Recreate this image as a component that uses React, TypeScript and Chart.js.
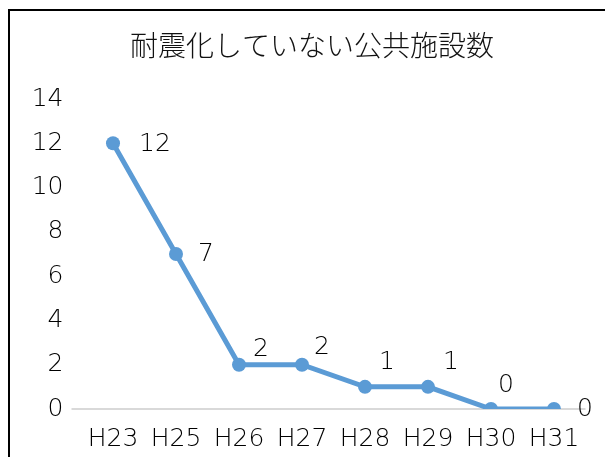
import React, { useEffect, useRef } from "react";
import { Chart, registerables } from "chart.js";

Chart.register(...registerables);

const title = "耐震化していない公共施設数";
const categories = ["H23", "H25", "H26", "H27", "H28", "H29", "H30", "H31"];
const values = [12, 7, 2, 2, 1, 1, 0, 0];
// label placement relative to each point (dx, dy in px), as in the reference
const labelDx = [42, 30, 22, 20, 22, 23, 15, 31];
const labelDy = [1, 0, -15, -17, -24, -24, -24, 0];

const FONT = "'DejaVu Sans', 'Noto Sans CJK JP', sans-serif";
const TEXT = "#000000";
const LINE = "#5B9BD5";

export default function App() {
  const ref = useRef<HTMLCanvasElement | null>(null);

  useEffect(() => {
    document.body.style.margin = "0";
    const canvas = ref.current!;
    const framePlugin = {
      id: "frame",
      beforeDraw(chart: any) {
        const c = chart.ctx;
        c.save();
        c.fillStyle = "#ffffff";
        c.fillRect(0, 0, chart.width, chart.height);
        c.strokeStyle = "#000000";
        c.lineWidth = 2;
        c.strokeRect(9, 10, 800, 800);
        c.restore();
      },
      afterDraw(chart: any) {
        const c = chart.ctx;
        c.save();
        c.font = `300 28px 'Noto Sans CJK JP', sans-serif`;
        c.fillStyle = "#111111";
        c.textAlign = "center";
        c.textBaseline = "middle";
        c.fillText(title, 312, 45);
        c.restore();
      },
    };
    const labelPlugin = {
      id: "pointLabels",
      afterDatasetsDraw(chart: any) {
        const c = chart.ctx;
        const meta = chart.getDatasetMeta(0);
        c.save();
        c.font = `200 25px ${FONT}`;
        c.fillStyle = TEXT;
        c.textAlign = "center";
        c.textBaseline = "middle";
        meta.data.forEach((pt: any, i: number) => {
          c.fillText(String(values[i]), pt.x + labelDx[i], pt.y + labelDy[i]);
        });
        c.restore();
      },
    };
    const chart = new Chart(canvas, {
      type: "line",
      data: {
        labels: categories,
        datasets: [
          {
            data: values,
            borderColor: LINE,
            backgroundColor: LINE,
            borderWidth: 5,
            pointRadius: 7,
            pointHoverRadius: 7,
            pointBackgroundColor: LINE,
            pointBorderColor: LINE,
            pointBorderWidth: 0,
            tension: 0,
          },
        ],
      },
      options: {
        animation: false,
        responsive: false,
        devicePixelRatio: 1,
        layout: { padding: { left: 10, right: 19.5, top: 99, bottom: 0 } },
        plugins: {
          legend: { display: false },
          tooltip: { enabled: false },
          title: { display: false },
        },
        scales: {
          x: {
            offset: true,
            grid: { display: false },
            border: { display: false },
            ticks: {
              color: TEXT,
              font: { family: FONT, size: 25, weight: "200" as any },
              padding: 7,
              maxRotation: 0,
              autoSkip: false,
            },
            afterFit(scale: any) {
              scale.height = 48;
            },
          },
          y: {
            min: 0,
            max: 14,
            border: { display: false },
            grid: {
              drawTicks: true,
              tickLength: 10,
              lineWidth: 2,
              color: (ctx: any) => (ctx.tick && ctx.tick.value === 0 ? "#d9d9d9" : "rgba(0,0,0,0)"),
            },
            ticks: {
              stepSize: 2,
              color: TEXT,
              font: { family: FONT, size: 25, weight: "200" as any },
              padding: 8,
            },
            afterFit(scale: any) {
              scale.width = 71.5;
            },
          },
        },
      },
      plugins: [framePlugin, labelPlugin],
    });
    return () => chart.destroy();
  }, []);

  return (
    <div style={{ width: 605, height: 457, overflow: "hidden" }}>
      <canvas ref={ref} width={605} height={457} style={{ display: "block" }} />
    </div>
  );
}
